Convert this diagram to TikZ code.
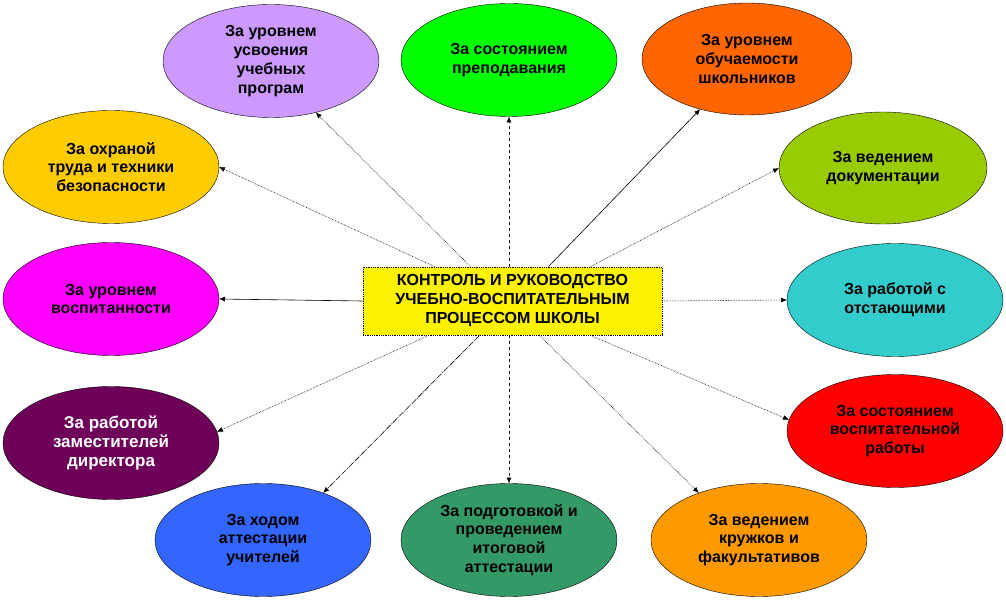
\documentclass[tikz,border=0pt]{standalone}
\usepackage{fontspec}
\setmainfont{Liberation Sans}
\usetikzlibrary{shapes.geometric,arrows.meta,calc}
\definecolor{lilac}{HTML}{CC99FF}
\definecolor{brightgreen}{HTML}{00FF00}
\definecolor{deeporange}{HTML}{FF6600}
\definecolor{olivegreen}{HTML}{99CC00}
\definecolor{gold}{HTML}{FFCC00}
\definecolor{pinkviolet}{HTML}{FF00FF}
\definecolor{turquoise}{HTML}{33CCCC}
\definecolor{plum}{HTML}{6E005A}
\definecolor{royalblue}{HTML}{3366FF}
\definecolor{seagreen}{HTML}{339966}
\definecolor{amber}{HTML}{FF9900}
\begin{document}
\begin{tikzpicture}[x=1pt,y=1pt,
  aim/.style={ellipse,draw,thin,minimum width=216pt,minimum height=113pt,
    inner sep=0pt,outer sep=0pt,align=center,
    font=\fontsize{16}{18.8}\selectfont\bfseries},
  link/.style={-{Latex[length=6pt,width=5pt]},line width=.6pt},
  dotlink/.style={link,densely dotted},
  dashlink/.style={link,dashed,semithick}]
\useasboundingbox (0,0) rectangle (1006,600);

\node (ctr) [draw,densely dotted,thick,fill=yellow,minimum width=299pt,
  minimum height=68pt,inner sep=0pt,align=center,
  font=\fontsize{16}{19}\selectfont\bfseries] at (512.5,299)
  {КОНТРОЛЬ И РУКОВОДСТВО\\УЧЕБНО-ВОСПИТАТЕЛЬНЫМ\\ПРОЦЕССОМ ШКОЛЫ};

\node (usv) [aim,fill=lilac] at (271,539) {За уровнем\\усвоения\\учебных\\програм};
\node (prep) [aim,fill=brightgreen] at (509,540) {За состоянием\\преподавания};
\node (obuch) [aim,fill=deeporange,minimum width=210pt,minimum height=112pt] at (747,541)
  {За уровнем\\обучаемости\\школьников};
\node (dok) [aim,fill=olivegreen,minimum width=208pt,minimum height=112pt] at (883,432)
  {За ведением\\документации};
\node (ohr) [aim,fill=gold] at (111,433) {За охраной\\труда и техники\\безопасности};
\node (vosp) [aim,fill=pinkviolet] at (111,301) {За уровнем\\воспитанности};
\node (otst) [aim,fill=turquoise] at (895,300) {За работой с\\отстающими};
\node (vrab) [aim,fill=red] at (895,169) {За состоянием\\воспитательной\\работы};
\node (zam) [aim,fill=plum,text=white,font=\fontsize{17}{19}\selectfont\bfseries] at (111,157)
  {За работой\\заместителей\\директора};
\node (att) [aim,fill=royalblue] at (263,60) {За ходом\\аттестации\\учителей};
\node (itog) [aim,fill=seagreen] at (509,60) {За подготовкой и\\проведением\\итоговой\\аттестации};
\node (kruzh) [aim,fill=amber] at (759,60) {За ведением\\кружков и\\факультативов};

\draw [dotlink] ($(ctr.north west)!.24!(ctr.north east)$) -- (ohr.east);
\draw [dotlink] ($(ctr.north west)!.36!(ctr.north east)$) -- (usv.311);
\draw [dashlink] (ctr.north -| prep.south) -- (prep.south);
\draw [link] ($(ctr.north west)!.62!(ctr.north east)$) -- (obuch.227);
\draw [dotlink] ($(ctr.north west)!.76!(ctr.north east)$) -- (dok.west);
\draw [link] (ctr.west) -- (vosp.east);
\draw [dotlink] (ctr.east) -- (otst.west);
\draw [dotlink] ($(ctr.south west)!.22!(ctr.south east)$) -- (zam.6);
\draw [link,dash pattern=on 6pt off 1pt on 1pt off 1pt] ($(ctr.south west)!.39!(ctr.south east)$) -- (att.38);
\draw [dashlink] (ctr.south -| itog.north) -- (itog.north);
\draw [dotlink] ($(ctr.south west)!.59!(ctr.south east)$) -- (kruzh.142);
\draw [dotlink] ($(ctr.south west)!.76!(ctr.south east)$) -- (vrab.174);
\end{tikzpicture}
\end{document}
